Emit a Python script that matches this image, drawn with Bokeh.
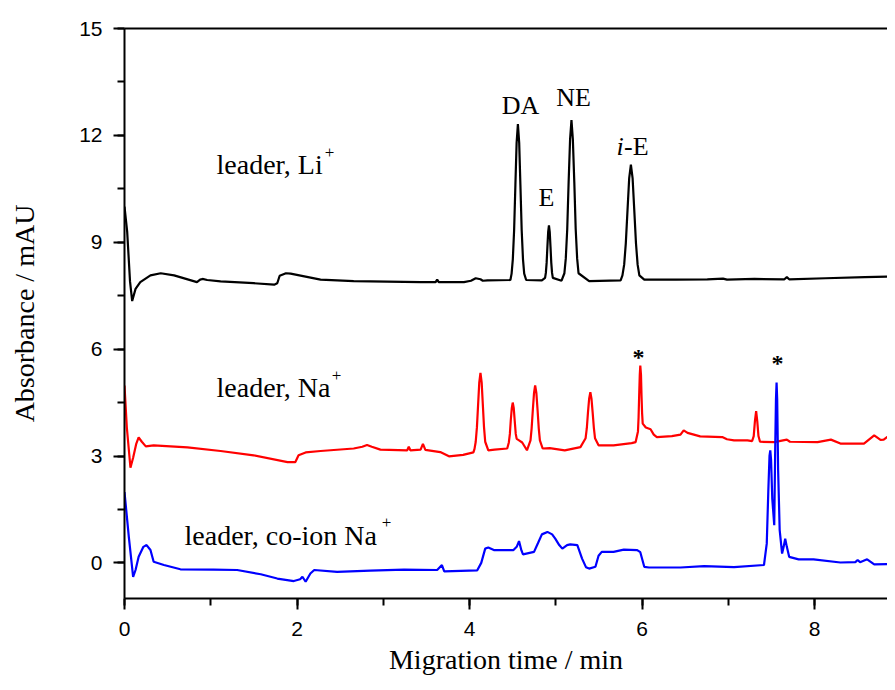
from bokeh.plotting import figure
from bokeh.models import LinearAxis, SingleIntervalTicker, FixedTicker, Range1d, Label
from bokeh.embed import file_html
from bokeh.resources import INLINE

# ---- data ----
black_x = [0.000, 0.031, 0.064, 0.089, 0.128, 0.183, 0.301, 0.420, 0.575, 0.840, 0.877, 0.904, 0.959, 1.114,
           1.497, 1.735, 1.771, 1.799, 1.872, 1.926, 2.273, 2.657, 3.433, 3.607, 3.625, 3.643, 3.935, 4.017,
           4.072, 4.127, 4.154, 4.209, 4.474,
           4.488, 4.502, 4.517, 4.532, 4.546, 4.561, 4.576, 4.590, 4.605, 4.620, 4.634, 4.657, 4.839,
           4.876, 4.885, 4.894, 4.903, 4.912, 4.921, 4.930, 4.939, 4.948, 4.957, 4.966, 5.067,
           5.100, 5.116, 5.133, 5.149, 5.166, 5.182, 5.198, 5.215, 5.231, 5.248, 5.264, 5.387, 5.752,
           5.773, 5.793, 5.812, 5.832, 5.851, 5.871, 5.891, 5.910, 5.930, 5.949, 5.969,
           6.026, 6.391, 6.757, 6.939, 6.985, 7.304, 7.651, 7.679, 7.706, 8.126, 8.583, 8.939]
black_y = [10.0, 9.3, 7.9, 7.35, 7.69, 7.88, 8.07, 8.13, 8.07, 7.88, 7.95, 7.97, 7.94, 7.90,
           7.85, 7.81, 7.85, 8.06, 8.13, 8.12, 7.95, 7.91, 7.88, 7.88, 7.95, 7.88, 7.88, 7.92,
           7.99, 7.96, 7.92, 7.93, 7.94,
           8.12, 8.52, 9.33, 10.61, 11.79, 12.32, 11.79, 10.61, 9.33, 8.52, 8.12, 7.94, 7.93,
           8.00, 8.14, 8.42, 8.87, 9.29, 9.47, 9.29, 8.87, 8.42, 8.14, 8.00, 7.92,
           8.13, 8.54, 9.37, 10.68, 11.89, 12.43, 11.89, 10.68, 9.37, 8.54, 8.13, 7.91, 7.93,
           8.07, 8.37, 8.97, 9.91, 10.79, 11.18, 10.79, 9.91, 8.97, 8.37, 8.07,
           7.95, 7.95, 7.96, 7.98, 7.95, 7.97, 7.96, 8.02, 7.96, 7.99, 8.02, 8.04]

red_x = [0.000, 0.027, 0.069, 0.100, 0.137, 0.164, 0.201, 0.247, 0.338, 0.730, 1.114, 1.497, 1.890, 1.981,
         2.018, 2.100, 2.273, 2.657, 2.757, 2.812, 2.867, 2.967, 3.278, 3.296, 3.314, 3.433, 3.460, 3.488,
         3.661, 3.762, 3.926,
         4.045, 4.058, 4.072, 4.086, 4.100, 4.113, 4.127, 4.141, 4.154, 4.168, 4.182, 4.218, 4.291, 4.437,
         4.456, 4.468, 4.478, 4.490, 4.501, 4.513, 4.524, 4.536, 4.547, 4.574, 4.611, 4.666,
         4.707, 4.720, 4.734, 4.748, 4.761, 4.775, 4.789, 4.803, 4.816, 4.848, 4.930, 5.104, 5.286,
         5.346, 5.360, 5.373, 5.387, 5.401, 5.414, 5.428, 5.442, 5.455, 5.496, 5.670, 5.880, 5.926,
         5.953, 5.960, 5.967, 5.974, 5.980, 5.988, 5.994, 6.001, 6.008, 6.044, 6.099, 6.136, 6.172, 6.346,
         6.446, 6.483, 6.528, 6.674, 6.930, 6.985, 7.067, 7.222, 7.277, 7.295, 7.309, 7.323, 7.336, 7.350,
         7.368, 7.533, 7.679, 7.715, 8.035, 8.190, 8.300, 8.573, 8.692, 8.765, 8.802, 8.884, 8.939]
red_y = [4.98, 3.8, 2.67, 2.95, 3.35, 3.52, 3.40, 3.27, 3.30, 3.24, 3.14, 3.02, 2.83, 2.83,
         3.02, 3.10, 3.14, 3.21, 3.26, 3.31, 3.26, 3.18, 3.16, 3.26, 3.16, 3.18, 3.34, 3.17,
         3.11, 2.99, 3.03,
         3.10, 3.20, 3.40, 3.81, 4.46, 5.06, 5.33, 5.06, 4.46, 3.81, 3.40, 3.16, 3.18, 3.21,
         3.38, 3.62, 3.99, 4.34, 4.50, 4.34, 3.99, 3.62, 3.48, 3.44, 3.38, 3.16,
         3.44, 3.77, 4.29, 4.77, 4.98, 4.77, 4.29, 3.77, 3.44, 3.21, 3.22, 3.16, 3.25,
         3.50, 3.78, 4.21, 4.61, 4.79, 4.61, 4.21, 3.78, 3.50, 3.30, 3.30, 3.36, 3.39,
         3.69, 4.08, 4.71, 5.28, 5.54, 5.28, 4.71, 4.20, 3.91, 3.80, 3.75, 3.60, 3.53, 3.56,
         3.60, 3.72, 3.65, 3.55, 3.53, 3.47, 3.44, 3.44, 3.42, 3.56, 3.98, 4.26, 3.98, 3.56,
         3.40, 3.39, 3.46, 3.40, 3.39, 3.46, 3.35, 3.35, 3.58, 3.45, 3.46, 3.61, 3.49]

blue_x = [0.000, 0.050, 0.100, 0.128, 0.164, 0.219, 0.256, 0.301, 0.338, 0.457, 0.648, 1.032, 1.306, 1.580,
          1.771, 1.963, 2.036, 2.063, 2.100, 2.155, 2.200, 2.465, 2.849, 3.241, 3.625, 3.680, 3.707, 4.090,
          4.136, 4.182, 4.218, 4.282, 4.510, 4.547, 4.574, 4.602, 4.620, 4.748, 4.793, 4.839, 4.903, 4.958,
          4.994, 5.040, 5.076, 5.131, 5.168, 5.250, 5.305, 5.350, 5.387, 5.460, 5.496, 5.533, 5.670, 5.789,
          5.944, 5.980, 6.026, 6.081, 6.446, 6.720, 7.067, 7.414,
          7.446, 7.464, 7.478, 7.487, 7.496, 7.510, 7.533, 7.544, 7.553, 7.560, 7.567, 7.578, 7.596, 7.624,
          7.642, 7.660, 7.679, 7.706, 7.816, 7.989, 8.300, 8.473, 8.500, 8.528, 8.610, 8.692, 8.939]
blue_y = [1.99, 0.73, -0.39, -0.20, 0.17, 0.45, 0.50, 0.36, 0.03, -0.06, -0.18, -0.19, -0.20, -0.32,
          -0.44, -0.51, -0.46, -0.39, -0.53, -0.30, -0.20, -0.25, -0.22, -0.19, -0.20, -0.06, -0.24, -0.21,
          0.0, 0.40, 0.43, 0.36, 0.36, 0.45, 0.61, 0.35, 0.24, 0.31, 0.55, 0.80, 0.87, 0.80,
          0.68, 0.50, 0.40, 0.50, 0.52, 0.50, 0.12, -0.12, -0.16, -0.11, 0.20, 0.31, 0.31, 0.37,
          0.36, 0.30, -0.11, -0.13, -0.13, -0.09, -0.12, -0.06,
          0.54, 2.0, 3.0, 3.16, 2.9, 1.8, 1.06, 3.2, 4.6, 5.06, 4.6, 2.6, 0.92, 0.26,
          0.45, 0.68, 0.45, 0.17, 0.10, 0.10, 0.01, 0.02, 0.08, 0.02, 0.10, -0.04, -0.03]

SERIF = "Liberation Serif"
SANS = "Liberation Sans"

p = figure(width=887, height=682, x_range=Range1d(0, 8.846), y_range=Range1d(-1, 15),
           output_backend="svg", toolbar_location=None,
           min_border_left=124, min_border_right=0, min_border_top=28, min_border_bottom=84)
p.background_fill_color = "white"
p.border_fill_color = "white"
p.outline_line_color = None
p.xgrid.visible = False
p.ygrid.visible = False

p.line(black_x, black_y, line_color="black", line_width=2.2)
p.line(red_x, red_y, line_color="#ff0000", line_width=2.2)
p.line(blue_x, blue_y, line_color="#0000ff", line_width=2.2)

for ax in (p.xaxis[0], p.yaxis[0]):
    ax.axis_line_width = 2
    ax.axis_line_color = "black"
    ax.major_tick_line_width = 2
    ax.minor_tick_line_width = 2
    ax.major_tick_out = 11
    ax.major_tick_in = 0
    ax.minor_tick_out = 7
    ax.minor_tick_in = 0
    ax.major_label_text_font = SANS
    ax.major_label_text_font_size = "21px"
    ax.major_label_text_color = "black"
    ax.axis_label_text_font = SERIF
    ax.axis_label_text_font_size = "28px"
    ax.axis_label_text_font_style = "normal"
    ax.axis_label_text_color = "black"

p.xaxis.ticker = SingleIntervalTicker(interval=2, num_minor_ticks=2)
p.yaxis.ticker = SingleIntervalTicker(interval=3, num_minor_ticks=2)
p.xaxis.axis_label = "Migration time / min"
p.yaxis.axis_label = "Absorbance / mAU"
p.xaxis.major_label_standoff = 12
p.yaxis.major_label_standoff = 11
p.xaxis.axis_label_standoff = 5
p.yaxis.axis_label_standoff = 36

top = LinearAxis(ticker=FixedTicker(ticks=[]), major_tick_line_color=None, minor_tick_line_color=None,
                 major_label_text_font_size="0px", major_label_standoff=0,
                 axis_line_width=2, axis_line_color="black")
p.add_layout(top, "above")

def lab(x, y, t, size="26px", style="normal", align="left", base="alphabetic"):
    p.add_layout(Label(x=x, y=y, text=t, text_font=SERIF, text_font_size=size, text_font_style=style,
                       text_align=align, text_baseline=base, text_color="black"))

lab(1.067, 11.18, "leader, Li", size="28px")
lab(2.377, 11.51, "+", size="17px", align="center", base="middle")
lab(1.067, 4.92, "leader, Na", size="28px")
lab(2.458, 5.26, "+", size="17px", align="center", base="middle")
lab(0.696, 0.77, "leader, co-ion Na", size="28px")
lab(3.038, 1.14, "+", size="17px", align="center", base="middle")

lab(4.591, 12.83, "DA", align="center")
lab(4.893, 10.25, "E", align="center")
lab(5.206, 13.06, "NE", align="center")
lab(5.704, 11.70, "i", style="italic")
lab(5.791, 11.70, "-E")
lab(5.959, 5.78, "*", size="24px", style="bold", align="center")
lab(7.571, 5.61, "*", size="24px", style="bold", align="center")

open("out.html", "w").write(file_html(p, INLINE))
